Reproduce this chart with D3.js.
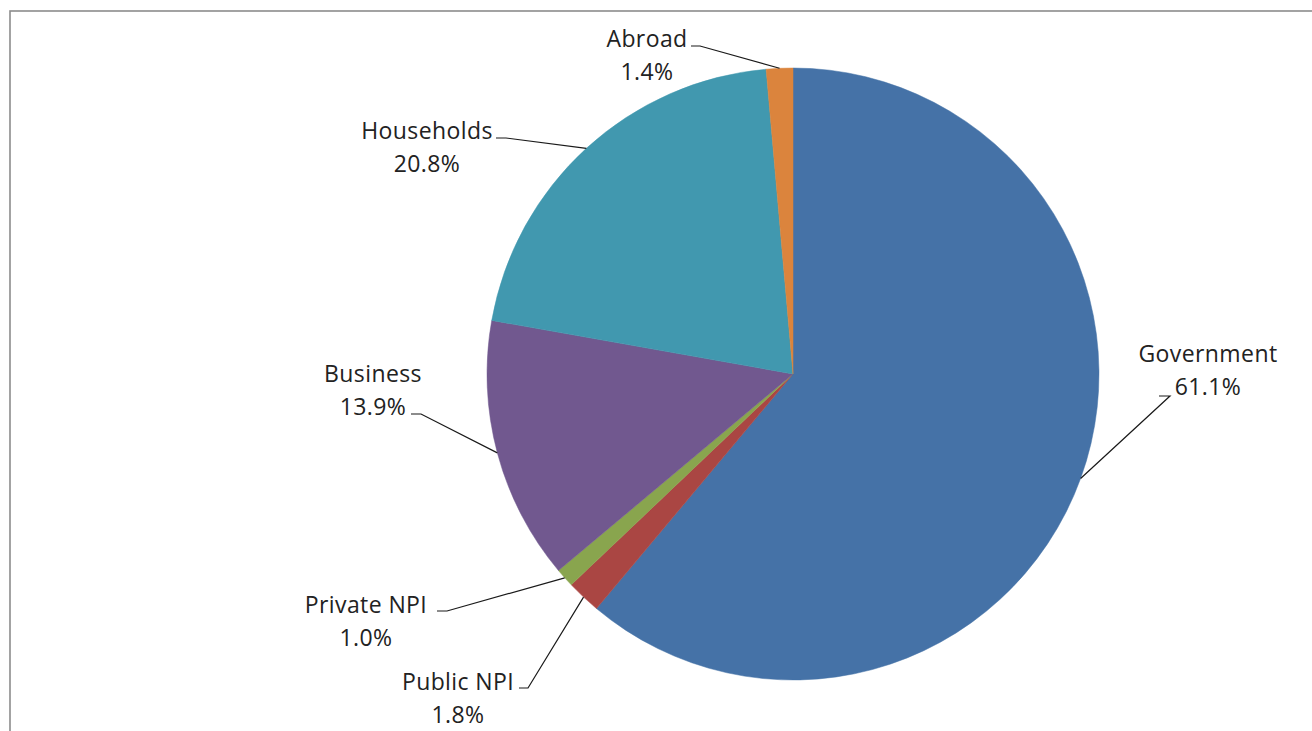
<!DOCTYPE html>
<html>
<head>
<meta charset="utf-8">
<script src="https://cdn.jsdelivr.net/npm/d3@7"></script>
<style>
  html, body { margin: 0; padding: 0; background: #fff; }
  svg { display: block; }
  text { font-family: "Open Sans", "DejaVu Sans", sans-serif; }
</style>
</head>
<body>
<svg id="chart" width="1312" height="731"></svg>
<script>
// Funding sources, shares in percent (clockwise from 12 o'clock)
const categories = ["Government", "Public NPI", "Private NPI", "Business", "Households", "Abroad"];
const shares = [61.1, 1.8, 1.0, 13.9, 20.8, 1.4];
const colors = ["#4572A7", "#AA4643", "#89A54E", "#71588F", "#4198AF", "#DB843D"];

// Label placement: text centre x, first-line baseline, leader tick [x0, x1, y]
const labelLayout = [
  { x: 1208, y: 362, tick: [1159, 1170, 396] },
  { x: 458,  y: 690, tick: [519, 528, 688] },
  { x: 366,  y: 613, tick: [437, 447, 611] },
  { x: 373,  y: 382, tick: [411, 421, 414] },
  { x: 427,  y: 139, tick: [496, 506, 138] },
  { x: 647,  y: 47,  tick: [691, 700, 46] }
];

const W = 1312, H = 731;
const cx = 793, cy = 374, radius = 306;

const svg = d3.select("#chart");

// chart frame (runs off the right and bottom edges)
svg.append("rect")
  .attr("x", 10).attr("y", 11)
  .attr("width", W + 20).attr("height", H + 20)
  .attr("fill", "#fff")
  .attr("stroke", "#8c8c8c")
  .attr("stroke-width", 1.6);

const data = categories.map((c, i) => ({ name: c, value: shares[i], color: colors[i], layout: labelLayout[i] }));

const pie = d3.pie().value(d => d.value).sort(null);
const arc = d3.arc().innerRadius(0).outerRadius(radius);
const arcs = pie(data);

const g = svg.append("g").attr("transform", `translate(${cx},${cy})`);

g.selectAll("path.slice")
  .data(arcs)
  .join("path")
  .attr("class", "slice")
  .attr("d", arc)
  .attr("fill", d => d.data.color)
  .attr("stroke", d => d.data.color)
  .attr("stroke-width", 0.5);

// leader lines: tick next to text, then to the slice's outer edge midpoint
arcs.forEach(a => {
  const mid = (a.startAngle + a.endAngle) / 2;
  const px = cx + radius * Math.sin(mid);
  const py = cy - radius * Math.cos(mid);
  const [x0, x1, ty] = a.data.layout.tick;
  svg.append("polyline")
    .attr("points", `${x0},${ty} ${x1},${ty} ${px},${py}`)
    .attr("fill", "none")
    .attr("stroke", "#1a1a1a")
    .attr("stroke-width", 1.2);
});

const fmt = d3.format(".1f");
const labels = svg.append("g")
  .attr("font-size", 23)
  .attr("letter-spacing", 0.4)
  .attr("fill", "#222")
  .attr("text-anchor", "middle");

arcs.forEach(a => {
  const L = a.data.layout;
  labels.append("text").attr("x", L.x).attr("y", L.y).text(a.data.name);
  labels.append("text").attr("x", L.x).attr("y", L.y + 33).text(fmt(a.data.value) + "%");
});
</script>
</body>
</html>
